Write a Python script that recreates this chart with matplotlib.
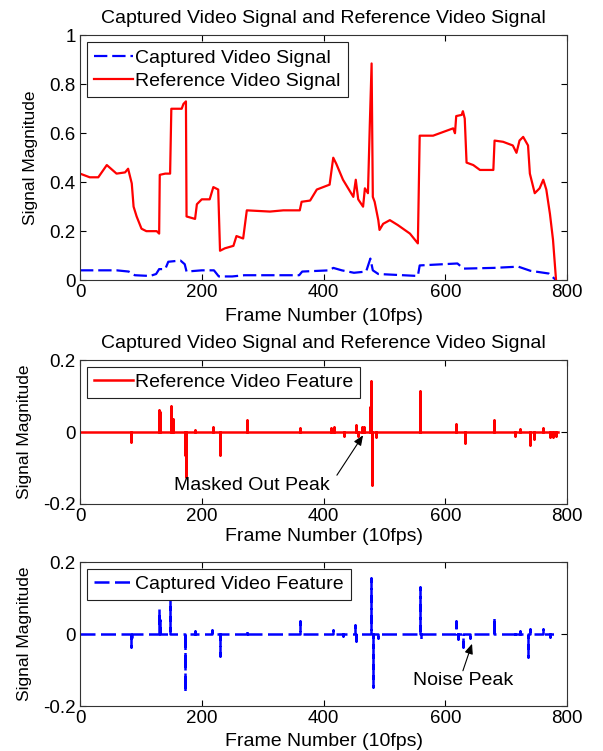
import numpy as np
import matplotlib
matplotlib.use('Agg')
import matplotlib.pyplot as plt

plt.rcParams['font.family'] = ['Liberation Sans', 'DejaVu Sans']

# Reference video signal (frame, magnitude)
ref_frames = [0, 16, 30, 44, 60, 74, 79, 85, 88, 93, 101, 109, 126, 130, 131, 140, 148,
              150, 167, 170, 174, 175, 189, 192, 200, 213, 219, 227, 230, 238, 252, 257,
              268, 274, 312, 334, 361, 364, 378, 389, 410, 416, 421, 432, 449, 453, 457,
              465, 468, 473, 476, 479, 481, 484, 490, 492, 498, 509, 522, 542, 555, 558,
              580, 613, 616, 618, 627, 629, 632, 635, 646, 657, 679, 681, 695, 711, 717,
              722, 728, 736, 739, 747, 755, 761, 766, 772, 777, 782]
ref_vals = [0.435, 0.42, 0.42, 0.47, 0.435, 0.44, 0.455, 0.395, 0.30, 0.26, 0.21, 0.20,
            0.20, 0.19, 0.43, 0.435, 0.435, 0.70, 0.70, 0.72, 0.73, 0.26, 0.25, 0.31,
            0.33, 0.33, 0.38, 0.37, 0.12, 0.13, 0.14, 0.18, 0.17, 0.285, 0.28, 0.285,
            0.285, 0.32, 0.325, 0.37, 0.39, 0.50, 0.475, 0.41, 0.34, 0.41, 0.33, 0.30,
            0.375, 0.355, 0.63, 0.885, 0.34, 0.32, 0.245, 0.205, 0.23, 0.245, 0.225,
            0.19, 0.15, 0.59, 0.59, 0.62, 0.60, 0.67, 0.675, 0.69, 0.66, 0.48, 0.47,
            0.45, 0.45, 0.57, 0.565, 0.55, 0.52, 0.57, 0.585, 0.55, 0.435, 0.355, 0.375,
            0.41, 0.37, 0.27, 0.165, 0.0]

# Captured video signal
cap_frames = [0, 60, 80, 90, 115, 125, 130, 140, 145, 165, 172, 175, 200, 220, 228, 250,
              270, 360, 365, 410, 416, 430, 450, 470, 477, 481, 490, 555, 558, 620, 630,
              680, 720, 740, 770, 782]
cap_vals = [0.04, 0.04, 0.035, 0.02, 0.017, 0.025, 0.045, 0.045, 0.075, 0.08, 0.065,
            0.035, 0.04, 0.04, 0.015, 0.015, 0.02, 0.02, 0.035, 0.04, 0.05, 0.04, 0.03,
            0.035, 0.088, 0.04, 0.025, 0.017, 0.06, 0.068, 0.047, 0.05, 0.055, 0.038,
            0.027, 0.0]

# Reference video feature spikes
rf_frames = [84, 130, 132, 149, 152, 173, 174, 189, 218, 230, 274, 362, 413, 417, 434,
             453, 456, 464, 467, 476, 478, 479, 487, 558, 559, 618, 632, 680, 714, 722,
             739, 745, 760, 772, 777, 782]
rf_vals = [-0.028, 0.06, 0.055, 0.072, 0.035, -0.065, -0.125, 0.005, 0.014, -0.063,
           0.032, 0.012, 0.01, 0.015, -0.012, 0.02, -0.01, 0.013, 0.014, 0.07, 0.143,
           -0.147, -0.015, 0.115, 0.055, 0.022, -0.03, 0.032, -0.01, 0.008, -0.037,
           -0.02, 0.01, -0.015, -0.015, -0.012]

# Captured video feature spikes
cf_frames = [84, 86, 130, 132, 148, 172, 189, 216, 230, 274, 361, 416, 432, 452, 454,
             478, 481, 490, 558, 560, 618, 621, 629, 640, 680, 714, 722, 736, 739, 760,
             772]
cf_vals = [-0.037, -0.01, 0.07, 0.04, 0.10, -0.16, 0.008, 0.01, -0.06, 0.01, 0.035,
           0.012, -0.005, 0.026, -0.02, 0.155, -0.148, -0.012, 0.13, -0.015, 0.037,
           -0.015, -0.037, -0.01, 0.048, -0.01, 0.008, -0.063, 0.015, 0.015, -0.008]

x_end = 785
title = 'Captured Video Signal and Reference Video Signal'
xlab = 'Frame Number (10fps)'
ylab = 'Signal Magnitude'
blue = '#0000ff'
red = '#ff0000'
dash = (6, 2.2)


def spike_path(frames, vals, end):
    # zero baseline with a vertical excursion at each spike frame
    xs, ys = [0], [0]
    for f, v in zip(frames, vals):
        xs += [f, f, f]
        ys += [0, v, 0]
    xs.append(end)
    ys.append(0)
    return xs, ys


def matlab_axes(ax):
    ax.tick_params(direction='in', top=True, right=True, labelsize=13.5, length=4, pad=3)
    for s in ax.spines.values():
        s.set_linewidth(0.8)
        s.set_color('#333333')
    ax.set_xlim(0, 800)
    ax.set_xticks([0, 200, 400, 600, 800])


def matlab_legend(ax):
    leg = ax.legend(loc='upper left', fontsize=14, fancybox=False, edgecolor='#222222',
                    framealpha=1, borderpad=0.35, handlelength=2.0, handletextpad=0.15,
                    borderaxespad=0.35, labelspacing=0.3)
    leg.get_frame().set_linewidth(0.8)


fig = plt.figure(figsize=(6.03, 7.51), dpi=100)

ax1 = fig.add_axes([0.1327, 0.627, 0.8076, 0.326])
ax1.plot(cap_frames, cap_vals, '--', color=blue, lw=1.6, dashes=dash,
         label='Captured Video Signal')
ax1.plot(ref_frames, ref_vals, '-', color=red, lw=1.6, label='Reference Video Signal')
matlab_axes(ax1)
ax1.set_ylim(0, 1)
ax1.set_yticks([0, 0.2, 0.4, 0.6, 0.8, 1])
ax1.set_yticklabels(['0', '0.2', '0.4', '0.6', '0.8', '1'])
ax1.set_title(title, fontsize=14, pad=9)
ax1.set_xlabel(xlab, fontsize=14, labelpad=5)
ax1.set_ylabel(ylab, fontsize=12.5, labelpad=8)
matlab_legend(ax1)

ax2 = fig.add_axes([0.1327, 0.3289, 0.8076, 0.1917])
xs, ys = spike_path(rf_frames, rf_vals, x_end)
ax2.plot(xs, ys, '-', color=red, lw=1.8, label='Reference Video Feature')
matlab_axes(ax2)
ax2.set_ylim(-0.2, 0.2)
ax2.set_yticks([-0.2, 0, 0.2])
ax2.set_yticklabels(['-0.2', '0', '0.2'])
ax2.set_title(title, fontsize=14, pad=9)
ax2.set_xlabel(xlab, fontsize=14, labelpad=2)
ax2.set_ylabel(ylab, fontsize=12.5, labelpad=8)
matlab_legend(ax2)
ax2.text(282, -0.149, 'Masked Out Peak', fontsize=14, ha='center', va='center')
ax2.annotate('', xy=(465, -0.009), xytext=(422, -0.12),
             arrowprops=dict(arrowstyle='-|>,head_length=0.6,head_width=0.25',
                             color='black', lw=0.8, shrinkA=0, shrinkB=0))

ax3 = fig.add_axes([0.1327, 0.0599, 0.8076, 0.1917])
xs, ys = spike_path(cf_frames, cf_vals, x_end)
ax3.plot(xs, ys, '--', color=blue, lw=1.8, dashes=dash, label='Captured Video Feature')
matlab_axes(ax3)
ax3.set_ylim(-0.2, 0.2)
ax3.set_yticks([-0.2, 0, 0.2])
ax3.set_yticklabels(['-0.2', '0', '0.2'])
ax3.set_xlabel(xlab, fontsize=14, labelpad=4)
ax3.set_ylabel(ylab, fontsize=12.5, labelpad=8)
matlab_legend(ax3)
ax3.text(629, -0.13, 'Noise Peak', fontsize=14, ha='center', va='center')
ax3.annotate('', xy=(644, -0.027), xytext=(629, -0.102),
             arrowprops=dict(arrowstyle='-|>,head_length=0.6,head_width=0.25',
                             color='black', lw=0.8, shrinkA=0, shrinkB=0))

fig.savefig('out.png', dpi=100)
